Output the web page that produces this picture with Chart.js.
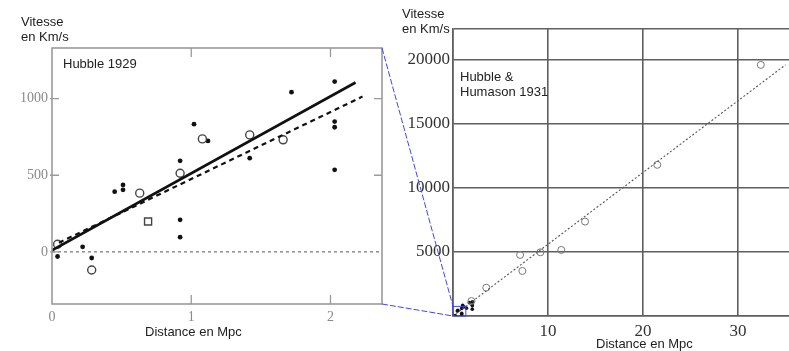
<!DOCTYPE html>
<html><head><meta charset="utf-8">
<script src="https://cdn.jsdelivr.net/npm/chart.js@4.4.1/dist/chart.umd.min.js"></script>
<style>
html,body{margin:0;padding:0;background:#fff;overflow:hidden;width:789px;height:351px;}
#wrap{position:relative;width:789px;height:351px;overflow:hidden;}
canvas{position:absolute;top:0;}
.lbl{position:absolute;font-family:"Liberation Sans",Arial,sans-serif;font-size:13px;color:#222;line-height:15px;white-space:nowrap;}
</style></head>
<body><div id="wrap">
<canvas id="c1" width="390" height="351" style="left:0;width:390px;height:351px"></canvas>
<canvas id="c2" width="410" height="351" style="left:390px;width:410px;height:351px"></canvas>
<canvas id="ov" width="789" height="351" style="left:0;width:789px;height:351px;pointer-events:none"></canvas>
<div class="lbl" style="left:21px;top:14px">Vitesse<br>en Km/s</div>
<div class="lbl" style="left:63px;top:56px">Hubble 1929</div>
<div class="lbl" style="left:145px;top:324px">Distance en Mpc</div>
<div class="lbl" style="left:402px;top:6px">Vitesse<br>en Km/s</div>
<div class="lbl" style="left:460px;top:69px;line-height:15px">Hubble &amp;<br>Humason 1931</div>
<div class="lbl" style="left:596px;top:336px">Distance en Mpc</div>
</div>
<script>
// ---- Hubble 1929 (left) ----
const h29FilledDist = [0.04, 0.22, 0.285, 0.45, 0.51, 0.51, 0.92, 0.92, 0.92, 1.02, 1.12, 1.42, 1.72, 2.03, 2.03, 2.03, 2.03];
const h29FilledVel  = [-30, 33, -40, 393, 437, 405, 594, 209, 96, 833, 724, 611, 1042, 1111, 850, 813, 535];
const h29OpenDist   = [0.04, 0.285, 0.63, 0.69, 0.92, 1.08, 1.42, 1.66];
const h29OpenVel    = [50, -118, 383, 198, 513, 737, 763, 731];
const h29OpenStyle  = ['circle','circle','circle','rect','circle','circle','circle','circle'];
const h29SolidDist  = [0, 2.18];
const h29SolidVel   = [10, 1105];
const h29DashDist   = [0.05, 2.23];
const h29DashVel    = [60, 1013];
const h29ZeroDist   = [0, 2.37];
const h29ZeroVel    = [0, 0];
const h29XRange = [0, 2.37];
const h29YRange = [-340, 1330];
const h29XTicks = [0, 1, 2];
const h29YTicks = [0, 500, 1000];

// ---- Hubble & Humason 1931 (right) ----
const h31Dist = [1.94, 3.5, 7.06, 7.3, 9.2, 11.4, 13.9, 21.5, 32.4];
const h31Vel  = [1170, 2210, 4766, 3516, 4974, 5156, 7370, 11800, 19600];
const h31LineDist = [0, 35];
const h31LineVel  = [0, 19600];
const h31XRange = [0, 36];
const h31YRange = [0, 22400];
const h31XTicks = [10, 20, 30];
const h31YTicks = [5000, 10000, 15000, 20000];
const zoomBoxDist = [0, 1.35];
const zoomBoxVel  = [0, 750];

const pts = (xs, ys) => xs.map((x, i) => ({x, y: ys[i]}));

// inward ticks + frame for left chart
const frameLeft = {
  id: 'frameLeft',
  afterDraw(chart) {
    const {ctx, chartArea: a, scales: {x, y}} = chart;
    ctx.save();
    ctx.strokeStyle = '#9a9a9a';
    ctx.lineWidth = 1.6;
    ctx.strokeRect(a.left, a.top, a.right - a.left, a.bottom - a.top);
    ctx.lineWidth = 1.3;
    ctx.beginPath();
    h29XTicks.filter(v => v !== 0).forEach(v => {
      const px = x.getPixelForValue(v);
      ctx.moveTo(px, a.bottom); ctx.lineTo(px, a.bottom - 9);
      ctx.moveTo(px, a.top); ctx.lineTo(px, a.top + 9);
    });
    h29YTicks.forEach(v => {
      const py = y.getPixelForValue(v);
      ctx.moveTo(a.left - 2, py); ctx.lineTo(a.left + 7, py);
      if (v !== 0) { ctx.moveTo(a.right, py); ctx.lineTo(a.right - 8, py); }
    });
    ctx.stroke();
    ctx.restore();
  }
};

const c1 = new Chart(document.getElementById('c1'), {
  type: 'scatter',
  data: {
    datasets: [
      {data: pts(h29ZeroDist, h29ZeroVel), showLine: true, borderColor: '#555', borderWidth: 1, borderDash: [3, 3], pointRadius: 0},
      {data: pts(h29SolidDist, h29SolidVel), showLine: true, borderColor: '#111', borderWidth: 2.6, pointRadius: 0},
      {data: pts(h29DashDist, h29DashVel), showLine: true, borderColor: '#111', borderWidth: 2.2, borderDash: [5, 4], pointRadius: 0},
      {data: pts(h29OpenDist, h29OpenVel), pointStyle: h29OpenStyle,
       pointRadius: h29OpenStyle.map(s => s === 'rect' ? 5 : 4),
       pointBackgroundColor: '#fff', pointBorderColor: '#444', pointBorderWidth: 1.4},
      {data: pts(h29FilledDist, h29FilledVel), pointRadius: 2.4, pointBackgroundColor: '#111', pointBorderColor: '#111', pointBorderWidth: 0}
    ]
  },
  options: {
    responsive: false, animation: false, devicePixelRatio: 1,
    layout: {padding: {top: 48, bottom: 0, left: 0, right: 8}},
    plugins: {legend: {display: false}, tooltip: {enabled: false}},
    scales: {
      x: {type: 'linear', min: h29XRange[0], max: h29XRange[1],
          afterFit: s => { s.height = 47; },
          afterBuildTicks: s => { s.ticks = h29XTicks.map(v => ({value: v})); },
          grid: {display: false, drawTicks: false}, border: {display: false},
          ticks: {padding: 5, color: '#8a8a8a', font: {family: 'Liberation Serif', size: 14}, callback: v => String(v)}},
      y: {type: 'linear', min: h29YRange[0], max: h29YRange[1],
          afterFit: s => { s.width = 52; },
          afterBuildTicks: s => { s.ticks = h29YTicks.map(v => ({value: v})); },
          grid: {display: false, drawTicks: false}, border: {display: false},
          ticks: {padding: 4, color: '#8a8a8a', font: {family: 'Liberation Serif', size: 14}, callback: v => String(v)}}
    }
  },
  plugins: [frameLeft]
});

const c2 = new Chart(document.getElementById('c2'), {
  type: 'scatter',
  data: {
    datasets: [
      {data: pts(h31LineDist, h31LineVel), showLine: true, borderColor: '#555', borderWidth: 1.1, borderDash: [2, 2], pointRadius: 0},
      {data: pts(h31Dist, h31Vel), pointRadius: 3.5, pointBackgroundColor: 'rgba(255,255,255,0)', pointBorderColor: '#777', pointBorderWidth: 1},
      {data: pts(h29FilledDist, h29FilledVel), pointRadius: 1.8, pointBackgroundColor: '#111', pointBorderColor: '#111', pointBorderWidth: 0}
    ]
  },
  options: {
    responsive: false, animation: false, devicePixelRatio: 1,
    layout: {padding: {top: 29, bottom: 0, left: 0, right: 0}},
    plugins: {legend: {display: false}, tooltip: {enabled: false}},
    scales: {
      x: {type: 'linear', min: h31XRange[0], max: h31XRange[1],
          afterFit: s => { s.height = 35; },
          afterBuildTicks: s => { s.ticks = [0, ...h31XTicks].map(v => ({value: v})); },
          grid: {color: '#5f5f5f', lineWidth: 1.6, drawTicks: false},
          border: {color: '#5f5f5f', width: 1.6},
          ticks: {padding: 5, color: '#333', font: {family: 'Liberation Serif', size: 17},
                  callback: v => v === 0 ? '' : String(v)}},
      y: {type: 'linear', min: h31YRange[0], max: h31YRange[1],
          afterFit: s => { s.width = 63; },
          afterBuildTicks: s => { s.ticks = [0, ...h31YTicks, h31YRange[1]].map(v => ({value: v})); },
          grid: {color: '#5f5f5f', lineWidth: 1.6, drawTicks: false},
          border: {color: '#5f5f5f', width: 1.6},
          ticks: {padding: 3, color: '#333', font: {family: 'Liberation Serif', size: 17},
                  callback: v => h31YTicks.includes(v) ? String(v) : ''}}
    }
  }
});

// blue zoom connectors, computed from both charts' scales
(function drawConnectors() {
  const ov = document.getElementById('ov').getContext('2d');
  const a1 = c1.chartArea;
  const off2 = 390;
  const x2 = c2.scales.x, y2 = c2.scales.y;
  const bx0 = off2 + x2.getPixelForValue(zoomBoxDist[0]);
  const bx1 = off2 + x2.getPixelForValue(zoomBoxDist[1]);
  const by0 = y2.getPixelForValue(zoomBoxVel[0]);
  const by1 = y2.getPixelForValue(zoomBoxVel[1]);
  ov.strokeStyle = '#3a46ff';
  ov.lineWidth = 1;
  ov.setLineDash([6, 2]);
  ov.beginPath();
  ov.moveTo(a1.right, a1.top); ov.lineTo(bx0, by1);
  ov.moveTo(a1.right, a1.bottom); ov.lineTo(bx0, by0);
  ov.stroke();
  ov.setLineDash([]);
  ov.strokeRect(bx0, by1, bx1 - bx0, by0 - by1);
})();
</script>
</body></html>
